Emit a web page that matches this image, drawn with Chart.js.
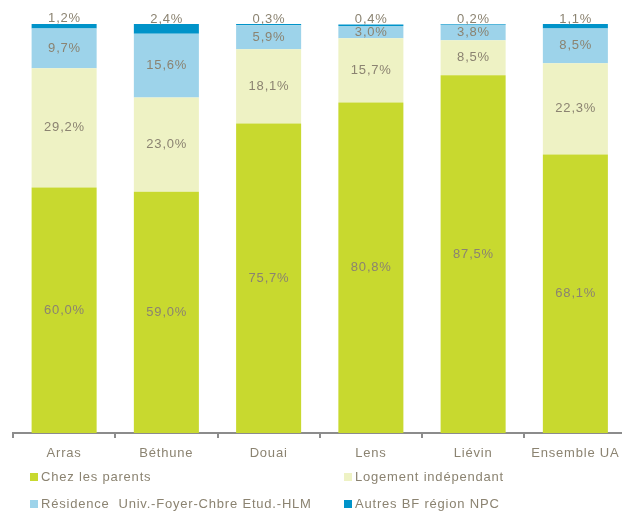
<!DOCTYPE html>
<html>
<head>
<meta charset="utf-8">
<script src="https://cdn.jsdelivr.net/npm/chart.js@4.4.1/dist/chart.umd.min.js"></script>
<style>
html,body{margin:0;padding:0;background:#fff;overflow:hidden;width:622px;height:511px;}
canvas{display:block;}
</style>
</head>
<body>
<canvas id="c" width="630" height="511" style="width:630px;height:511px"></canvas>
<script>
const categories = ['Arras','Béthune','Douai','Lens','Liévin','Ensemble UA'];
const chezParents = [60.0, 59.0, 75.7, 80.8, 87.5, 68.1];
const logementIndep = [29.2, 23.0, 18.1, 15.7, 8.5, 22.3];
const residence = [9.7, 15.6, 5.9, 3.0, 3.8, 8.5];
const autres = [1.2, 2.4, 0.3, 0.4, 0.2, 1.1];
const seriesNames = ['Chez les parents','Logement indépendant','Résidence  Univ.-Foyer-Chbre Etud.-HLM','Autres BF région NPC'];

const colors = ['#c8d92f','#eef2c4','#9dd3ea','#0093c9'];
const textColor = '#8b8371';
const FONT = '"Liberation Sans", Arial, sans-serif';
const SPACING = '0.8px';

const fmt = v => v.toFixed(1).replace('.', ',') + '%';

const spacingPlugin = {
  id: 'spacing',
  beforeUpdate(chart){ chart.ctx.letterSpacing = SPACING; },
  beforeDraw(chart){ chart.ctx.letterSpacing = SPACING; }
};

const labelPlugin = {
  id: 'segLabels',
  afterDatasetsDraw(chart){
    const ctx = chart.ctx;
    ctx.save();
    ctx.letterSpacing = SPACING;
    ctx.font = '13px ' + FONT;
    ctx.fillStyle = textColor;
    ctx.textAlign = 'center';
    ctx.textBaseline = 'middle';
    const n = chart.data.datasets.length;
    chart.data.datasets.forEach((ds, i) => {
      const meta = chart.getDatasetMeta(i);
      meta.data.forEach((bar, j) => {
        const v = ds.data[j];
        const y = (i === n - 1) ? Math.min(bar.y, bar.base) - 5 : (bar.y + bar.base) / 2;
        ctx.fillText(fmt(v), bar.x + 0.4, y);
      });
    });
    ctx.restore();
  }
};

const legendPlugin = {
  id: 'gridLegend',
  afterDraw(chart){
    const ctx = chart.ctx;
    ctx.save();
    ctx.letterSpacing = SPACING;
    ctx.font = '13px ' + FONT;
    ctx.textAlign = 'left';
    ctx.textBaseline = 'middle';
    const cols = [30, 344];
    const rows = [477, 504];
    chart.data.datasets.forEach((ds, i) => {
      const x = cols[i % 2];
      const y = rows[Math.floor(i / 2)];
      ctx.fillStyle = ds.backgroundColor;
      ctx.fillRect(x, y - 4, 8, 8);
      ctx.fillStyle = textColor;
      ctx.fillText(ds.label, x + 11, y);
    });
    ctx.restore();
  }
};

const values = [chezParents, logementIndep, residence, autres];

new Chart(document.getElementById('c'), {
  type: 'bar',
  data: {
    labels: categories,
    datasets: values.map((d, i) => ({
      label: seriesNames[i],
      data: d,
      backgroundColor: colors[i],
      borderWidth: 0,
      barPercentage: 0.636,
      categoryPercentage: 1
    }))
  },
  options: {
    responsive: false,
    animation: false,
    devicePixelRatio: 1,
    layout: { padding: { left: 13, right: 3.5, top: 24, bottom: 0 } },
    plugins: {
      legend: { display: false },
      tooltip: { enabled: false }
    },
    scales: {
      x: {
        stacked: true,
        afterFit(scale){ scale.height = 78; },
        grid: { offset: true, drawOnChartArea: false, drawTicks: true, tickLength: 5, color: '#8c8c8c', lineWidth: 2 },
        border: { display: true, color: '#8c8c8c', width: 2 },
        ticks: { color: textColor, font: { family: FONT, size: 13 }, padding: 8, maxRotation: 0, autoSkip: false }
      },
      y: {
        stacked: true,
        display: false,
        min: 0,
        max: 100
      }
    }
  },
  plugins: [spacingPlugin, labelPlugin, legendPlugin]
});
</script>
</body>
</html>
